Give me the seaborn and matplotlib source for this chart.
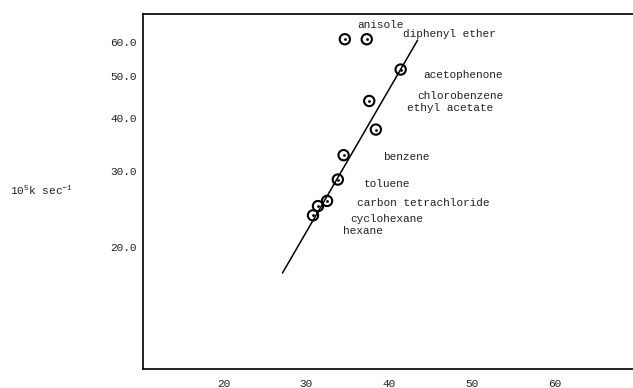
import matplotlib
matplotlib.use("Agg")
import matplotlib.pyplot as plt
import matplotlib.ticker as mticker
import seaborn as sns
import pandas as pd

# data
solvents = ["anisole", "diphenyl ether", "acetophenone", "chlorobenzene", "ethyl acetate",
            "benzene", "toluene", "carbon tetrachloride", "cyclohexane", "hexane"]
x_vals = [34.65, 37.3, 41.4, 37.6, 38.4, 34.5, 33.8, 32.5, 31.4, 30.8]
k_vals = [60.8, 60.8, 51.7, 43.7, 37.5, 32.7, 28.7, 25.6, 24.9, 23.7]
fit_x = [27.1, 43.45]
fit_k = [17.4, 60.5]
y_ticks = [20, 30, 40, 50, 60]
y_tick_labels = ["20.0", "30.0", "40.0", "50.0", "60.0"]
x_ticks = [20, 30, 40, 50, 60]
x_tick_labels = ["20", "30", "40", "50", "60"]
y_label = "10$^5$k sec$^{-1}$"

# label positions (data coords)
label_x = [36.1, 41.67, 44.09, 43.36, 42.15, 39.25, 36.95, 36.1, 35.25, 34.4]
label_y = [65.6, 62.5, 50.1, 44.8, 42.0, 32.4, 28.1, 25.3, 23.3, 21.8]

sns.set_theme(style="white")
plt.rcParams["font.family"] = ["Liberation Mono", "DejaVu Sans Mono"]
plt.rcParams["mathtext.default"] = "regular"

fig = plt.figure(figsize=(6.33, 3.88), dpi=100)
ax = fig.add_axes([0.2254, 0.0482, 0.7746, 0.9158])

df = pd.DataFrame({"x": x_vals, "k": k_vals})
fit = pd.DataFrame({"x": fit_x, "k": fit_k})

sns.lineplot(data=fit, x="x", y="k", color="black", linewidth=1.1, ax=ax)
sns.scatterplot(data=df, x="x", y="k", marker="o", s=55, facecolor="none",
                edgecolor="black", linewidth=1.5, ax=ax, zorder=3)
sns.scatterplot(data=df, x="x", y="k", marker="o", s=4, color="black",
                edgecolor="black", linewidth=0, ax=ax, zorder=4)

ax.set_yscale("log")
ax.set_xlim(10.2, 69.5)
ax.set_ylim(10.4, 69.6)
ax.yaxis.set_major_locator(mticker.FixedLocator(y_ticks))
ax.yaxis.set_minor_locator(mticker.NullLocator())
ax.set_yticklabels(y_tick_labels)
ax.set_xticks(x_ticks)
ax.set_xticklabels(x_tick_labels)
ax.tick_params(axis="both", which="major", direction="in", length=3, width=1,
               color="black", labelsize=8, labelcolor="#222222")
ax.tick_params(axis="x", pad=7)
ax.tick_params(axis="y", pad=4)
ax.set_xlabel("")
ax.set_ylabel("")

for side in ["top", "left", "bottom"]:
    ax.spines[side].set_visible(True)
    ax.spines[side].set_color("black")
    ax.spines[side].set_linewidth(1.2)
ax.spines["right"].set_visible(False)

for name, lx, ly in zip(solvents, label_x, label_y):
    ax.text(lx, ly, name, fontsize=8, color="#222222", va="center", ha="left")

fig.text(10 / 633, 1 - 190 / 388, y_label, fontsize=8, color="#222222",
         va="center", ha="left")

fig.savefig("out.png", dpi=100)
